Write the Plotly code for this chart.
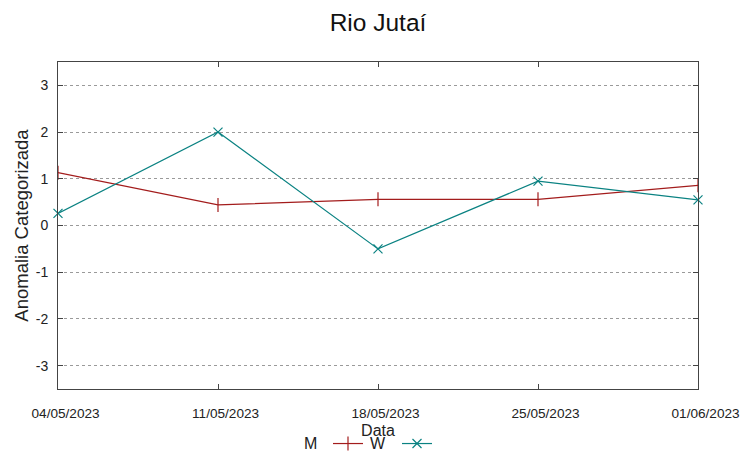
import plotly.graph_objects as go

dates = ["2023-05-04", "2023-05-11", "2023-05-18", "2023-05-25", "2023-06-01"]
tick_labels = ["04/05/2023", "11/05/2023", "18/05/2023", "25/05/2023", "01/06/2023"]
m_values = [1.13, 0.44, 0.56, 0.56, 0.86]
w_values = [0.26, 2.0, -0.5, 0.95, 0.55]
y_ticks = [-3, -2, -1, 0, 1, 2, 3]
y_tick_labels = ["-3", "-2", "-1", "0", "1", "2", "3"]

RED = "#a31c1c"
TEAL = "#0a8282"
AXC = "#444444"
TXT = "#222222"
FONT = "Liberation Sans, Arial, sans-serif"

# the page body has an 8px default margin, so the figure is drawn 8px smaller
W, H = 745, 451

# date labels in the reference sit slightly right of their ticks
shifted_labels = ["\u00a0" * 4 + t for t in tick_labels]

fig = go.Figure()
fig.add_trace(go.Scatter(x=dates, y=m_values, mode="lines+markers", name=" ",
                         line=dict(color=RED, width=1.2),
                         marker=dict(symbol="line-ns", size=10, line=dict(color=RED, width=1.2)),
                         cliponaxis=True))
fig.add_trace(go.Scatter(x=dates, y=w_values, mode="lines+markers", name=" ",
                         line=dict(color=TEAL, width=1.2),
                         marker=dict(symbol="x-thin", size=9, line=dict(color=TEAL, width=1.2)),
                         cliponaxis=False))

LEG_Y = -0.168

fig.update_layout(
    width=W, height=H,
    margin=dict(l=50, r=55, t=54, b=70, autoexpand=False),
    paper_bgcolor="white", plot_bgcolor="white",
    font=dict(family=FONT, color=TXT),
    title=dict(text="Rio Jutaí", x=370 / W, xanchor="center", y=1 - 14 / H, yanchor="middle",
               font=dict(size=24.5, family=FONT, color="#111111")),
    showlegend=True,
    legend=dict(orientation="h", x=(328 - 58) / 640, xanchor="left", y=LEG_Y, yanchor="middle",
                entrywidth=24, entrywidthmode="pixels", font=dict(size=14),
                bgcolor="rgba(0,0,0,0)", itemclick=False),
    xaxis=dict(type="date", range=[dates[0], dates[-1]], tickvals=dates, ticktext=shifted_labels,
               automargin=False,
               ticks="inside", ticklen=5, tickcolor=AXC, showline=True, linecolor=AXC,
               linewidth=1, mirror="ticks", showgrid=False, zeroline=False,
               tickfont=dict(size=13.6, family=FONT, color=TXT),
               ticklabelstandoff=12,
               title=dict(text="Data", standoff=4, font=dict(size=16, family=FONT, color=TXT))),
    yaxis=dict(range=[-3.5, 3.5], tickvals=y_ticks, ticktext=y_tick_labels,
               ticks="inside", ticklen=5, tickcolor=AXC,
               automargin=False,
               showline=True, linecolor=AXC, linewidth=1, mirror="ticks",
               showgrid=True, gridcolor="#9a9a9a", griddash="dot", gridwidth=1,
               zeroline=False,
               tickfont=dict(size=14, family=FONT, color=TXT),
               ticklabelstandoff=6,
               title=dict(text="Anomalia Categorizada", standoff=2,
                          font=dict(size=18.5, family=FONT, color=TXT))),
    annotations=[
        dict(text="M", xref="paper", yref="paper", x=(310 - 58) / 640, y=LEG_Y,
             showarrow=False, font=dict(size=16, family=FONT, color=TXT),
             xanchor="center", yanchor="middle"),
        dict(text="W", xref="paper", yref="paper", x=(378 - 58) / 640, y=LEG_Y,
             showarrow=False, font=dict(size=16, family=FONT, color=TXT),
             xanchor="center", yanchor="middle"),
    ],
)

fig.write_html("out.html")
